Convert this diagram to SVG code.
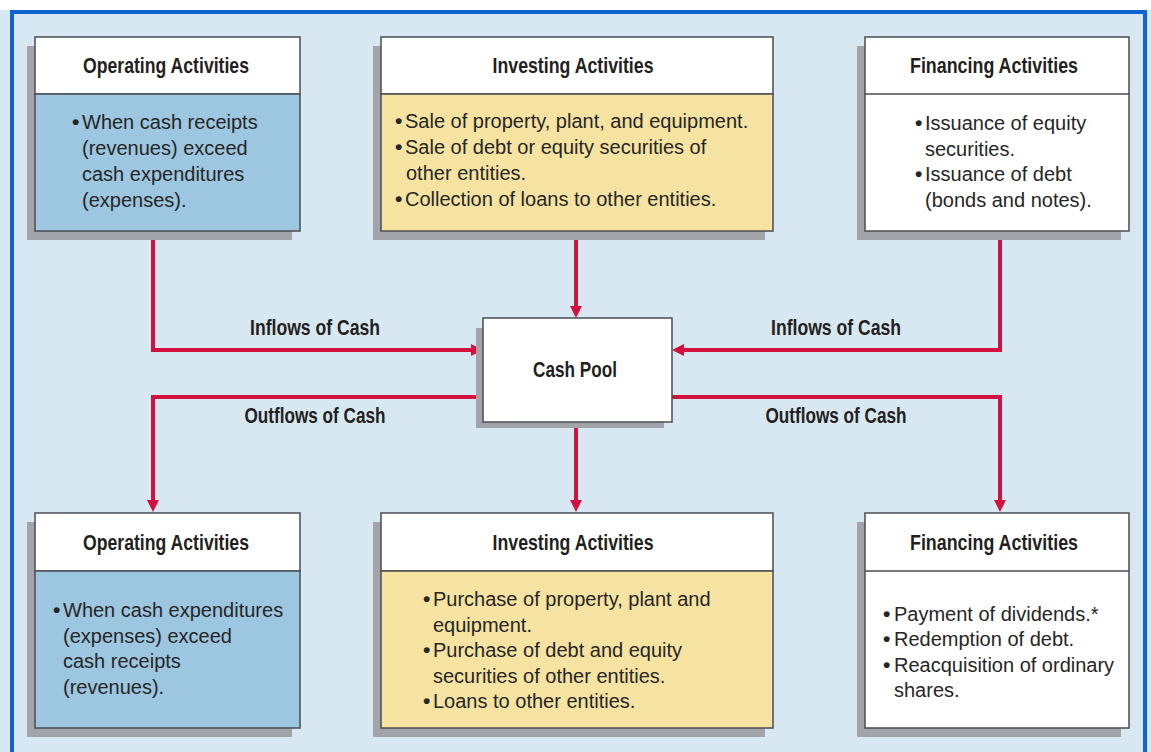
<svg xmlns="http://www.w3.org/2000/svg" width="1151" height="752" viewBox="0 0 1151 752">
<defs>
<style>
.bg{fill:#d8e8f2}
.frame{fill:none;stroke:#0d63d1;stroke-width:4}
.sh{fill:#a2a4a9}
.box{stroke:#4a4d52;stroke-width:1.5}
.white{fill:#ffffff}
.blue{fill:#9dc6e0}
.yellow{fill:#f6e3a1}
.div{stroke:#4a4d52;stroke-width:1.5}
.hd{font-family:"Liberation Sans",Arial,sans-serif;font-weight:bold;font-size:21.5px;fill:#231f20;text-anchor:middle}
.bd{font-family:"Liberation Sans",Arial,sans-serif;font-size:20px;fill:#262626}
.bu{font-size:21px;font-weight:bold}
.conn{fill:none;stroke:#d4103e;stroke-width:4}
</style>
<marker id="ah" markerUnits="userSpaceOnUse" markerWidth="12" markerHeight="12" refX="3" refY="6" orient="auto">
<path d="M0,0 L12,6 L0,12 z" fill="#d4103e"/>
</marker>
</defs>
<rect class="bg" x="0" y="0" width="1151" height="752"/>
<rect x="0" y="0" width="1151" height="10" fill="#ffffff"/>
<rect class="frame" x="12" y="12" width="1133" height="760"/>

<g id="connectors">
<path class="conn" d="M153,231 V350 H474" marker-end="url(#ah)"/>
<path class="conn" d="M576,231 V309" marker-end="url(#ah)"/>
<path class="conn" d="M1000,231 V350 H681" marker-end="url(#ah)"/>
<path class="conn" d="M483,397 H153 V503" marker-end="url(#ah)"/>
<path class="conn" d="M576,422 V503" marker-end="url(#ah)"/>
<path class="conn" d="M672,397 H1000 V503" marker-end="url(#ah)"/>
</g>

<g id="labels">
<text class="hd" x="315" y="335" textLength="130" lengthAdjust="spacingAndGlyphs">Inflows of Cash</text>
<text class="hd" x="836" y="335" textLength="130" lengthAdjust="spacingAndGlyphs">Inflows of Cash</text>
<text class="hd" x="315" y="423" textLength="141" lengthAdjust="spacingAndGlyphs">Outflows of Cash</text>
<text class="hd" x="836" y="423" textLength="141" lengthAdjust="spacingAndGlyphs">Outflows of Cash</text>
</g>

<g id="op-in">
<rect class="sh" x="27" y="46" width="265" height="194"/>
<rect class="box white" x="35" y="37" width="265" height="57"/>
<rect class="box blue" x="35" y="94" width="265" height="137"/>
<text class="hd" x="166" y="73" textLength="166" lengthAdjust="spacingAndGlyphs">Operating Activities</text>
<text class="bd"><tspan class="bu" x="72" y="129">•</tspan><tspan x="82" y="129">When cash receipts</tspan><tspan x="82" y="155">(revenues) exceed</tspan><tspan x="82" y="181">cash expenditures</tspan><tspan x="82" y="207">(expenses).</tspan></text>
</g>

<g id="inv-in">
<rect class="sh" x="373" y="46" width="392" height="194"/>
<rect class="box white" x="381" y="37" width="392" height="57"/>
<rect class="box yellow" x="381" y="94" width="392" height="137"/>
<text class="hd" x="573" y="73" textLength="161" lengthAdjust="spacingAndGlyphs">Investing Activities</text>
<text class="bd"><tspan class="bu" x="395" y="128">•</tspan><tspan x="405" y="128">Sale of property, plant, and equipment.</tspan><tspan class="bu" x="395" y="154">•</tspan><tspan x="405" y="154">Sale of debt or equity securities of</tspan><tspan x="406" y="180">other entities.</tspan><tspan class="bu" x="395" y="206">•</tspan><tspan x="405" y="206">Collection of loans to other entities.</tspan></text>
</g>

<g id="fin-in">
<rect class="sh" x="857" y="46" width="264" height="194"/>
<rect class="box white" x="865" y="37" width="264" height="194"/>
<line class="div" x1="865" y1="94" x2="1129" y2="94"/>
<text class="hd" x="994" y="73" textLength="168" lengthAdjust="spacingAndGlyphs">Financing Activities</text>
<text class="bd"><tspan class="bu" x="915" y="130">•</tspan><tspan x="925" y="130">Issuance of equity</tspan><tspan x="925" y="156">securities.</tspan><tspan class="bu" x="915" y="181">•</tspan><tspan x="925" y="181">Issuance of debt</tspan><tspan x="925" y="207">(bonds and notes).</tspan></text>
</g>

<g id="cash-pool">
<rect class="sh" x="476" y="328" width="188" height="100"/>
<rect class="box white" x="483" y="318" width="189" height="104"/>
<text class="hd" x="575" y="377" textLength="84" lengthAdjust="spacingAndGlyphs">Cash Pool</text>
</g>

<g id="op-out">
<rect class="sh" x="27" y="522" width="265" height="215"/>
<rect class="box white" x="35" y="513" width="265" height="58"/>
<rect class="box blue" x="35" y="571" width="265" height="157"/>
<text class="hd" x="166" y="550" textLength="166" lengthAdjust="spacingAndGlyphs">Operating Activities</text>
<text class="bd"><tspan class="bu" x="53" y="617">•</tspan><tspan x="63" y="617">When cash expenditures</tspan><tspan x="63" y="643">(expenses) exceed</tspan><tspan x="63" y="668">cash receipts</tspan><tspan x="63" y="694">(revenues).</tspan></text>
</g>

<g id="inv-out">
<rect class="sh" x="373" y="522" width="392" height="215"/>
<rect class="box white" x="381" y="513" width="392" height="58"/>
<rect class="box yellow" x="381" y="571" width="392" height="157"/>
<text class="hd" x="573" y="550" textLength="161" lengthAdjust="spacingAndGlyphs">Investing Activities</text>
<text class="bd"><tspan class="bu" x="423" y="606">•</tspan><tspan x="433" y="606">Purchase of property, plant and</tspan><tspan x="433" y="632">equipment.</tspan><tspan class="bu" x="423" y="657">•</tspan><tspan x="433" y="657">Purchase of debt and equity</tspan><tspan x="433" y="683">securities of other entities.</tspan><tspan class="bu" x="423" y="708">•</tspan><tspan x="433" y="708">Loans to other entities.</tspan></text>
</g>

<g id="fin-out">
<rect class="sh" x="857" y="522" width="264" height="215"/>
<rect class="box white" x="865" y="513" width="264" height="215"/>
<line class="div" x1="865" y1="571" x2="1129" y2="571"/>
<text class="hd" x="994" y="550" textLength="168" lengthAdjust="spacingAndGlyphs">Financing Activities</text>
<text class="bd"><tspan class="bu" x="883" y="621">•</tspan><tspan x="894" y="621">Payment of dividends.*</tspan><tspan class="bu" x="883" y="646">•</tspan><tspan x="894" y="646">Redemption of debt.</tspan><tspan class="bu" x="883" y="672">•</tspan><tspan x="894" y="672">Reacquisition of ordinary</tspan><tspan x="894" y="697">shares.</tspan></text>
</g>
</svg>
